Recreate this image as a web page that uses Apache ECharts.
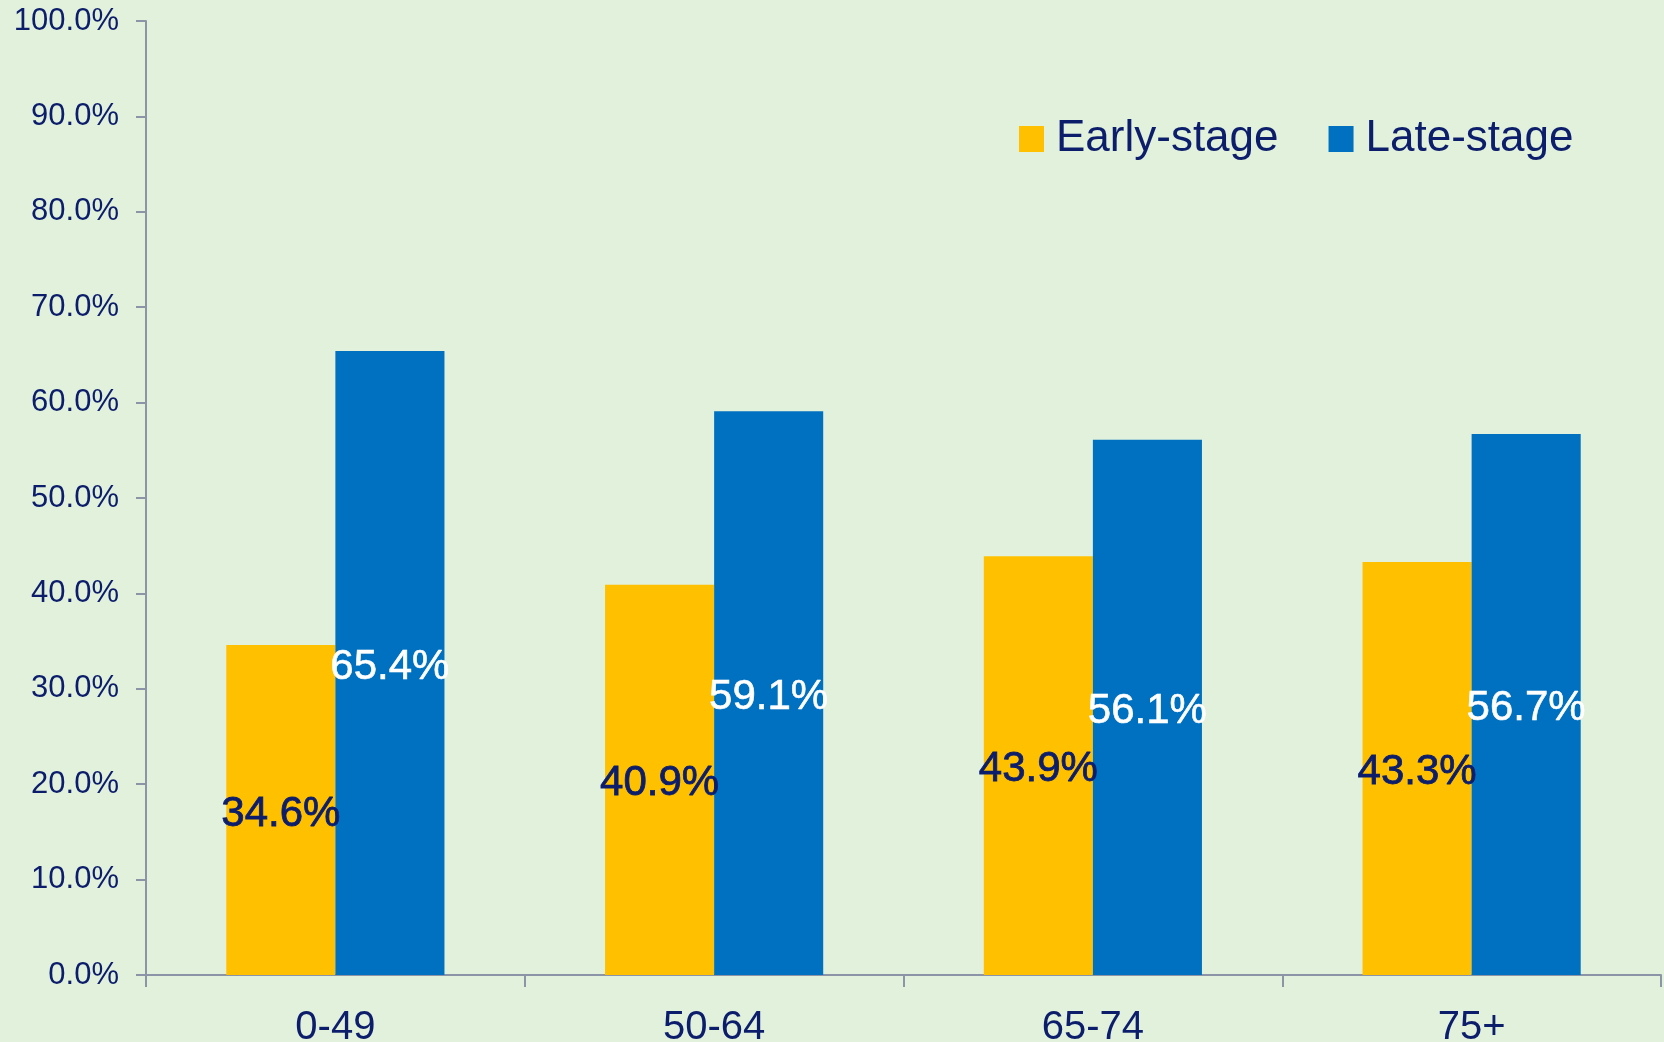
<!DOCTYPE html>
<html>
<head>
<meta charset="utf-8">
<script src="https://cdn.jsdelivr.net/npm/echarts@6/dist/echarts.min.js"></script>
<style>
html,body{margin:0;padding:0;background:#e2f1db;}
#chart{width:1664px;height:1042px;}
</style>
</head>
<body>
<div id="chart"></div>
<script>
const categories = ['0-49', '50-64', '65-74', '75+'];
const earlyStage = [34.6, 40.9, 43.9, 43.3];
const lateStage = [65.4, 59.1, 56.1, 56.7];
const seriesNames = ['Early-stage', 'Late-stage'];

const navy = '#0b1d6b';
const font = 'Liberation Sans, Arial, sans-serif';
const chart = echarts.init(document.getElementById('chart'));
chart.setOption({
  backgroundColor: '#e2f1db',
  animation: false,
  grid: { left: 146, right: 3, top: 21, bottom: 67, containLabel: false, outerBoundsMode: 'none' },
  legend: {
    top: 112,
    left: 1014,
    itemWidth: 25,
    itemHeight: 26,
    itemGap: 50,
    icon: 'rect',
    textStyle: { color: navy, fontSize: 44, fontFamily: font, padding: [0, 0, 0, 7] },
    data: seriesNames
  },
  xAxis: {
    type: 'category',
    data: categories,
    axisLine: { lineStyle: { color: '#8c95a8', width: 2 } },
    axisTick: { show: true, length: 12, lineStyle: { color: '#8c95a8', width: 2 } },
    axisLabel: { color: navy, fontSize: 40, fontFamily: font, margin: 33 }
  },
  yAxis: {
    type: 'value',
    min: 0,
    max: 100,
    interval: 10,
    splitLine: { show: false },
    axisLine: { show: true, lineStyle: { color: '#8c95a8', width: 2 } },
    axisTick: { show: true, length: 10, lineStyle: { color: '#8c95a8', width: 2 } },
    axisLabel: { color: navy, fontSize: 31, fontFamily: font, margin: 27,
      formatter: v => v.toFixed(1) + '%' }
  },
  series: [
    {
      name: seriesNames[0], type: 'bar', data: earlyStage,
      barWidth: '28.8%', barGap: '0%',
      itemStyle: { color: '#ffc000' },
      label: { show: true, position: 'inside', offset: [0, 4], color: navy, fontSize: 42, fontFamily: font,
        textBorderColor: navy, textBorderWidth: 0.8,
        formatter: p => p.value.toFixed(1) + '%' }
    },
    {
      name: seriesNames[1], type: 'bar', data: lateStage,
      barWidth: '28.8%', barGap: '0%',
      itemStyle: { color: '#0070c0' },
      label: { show: true, position: 'inside', offset: [0, 4], color: '#ffffff', fontSize: 42, fontFamily: font,
        textBorderColor: '#ffffff', textBorderWidth: 0.6,
        formatter: p => p.value.toFixed(1) + '%' }
    }
  ]
});
</script>
</body>
</html>
